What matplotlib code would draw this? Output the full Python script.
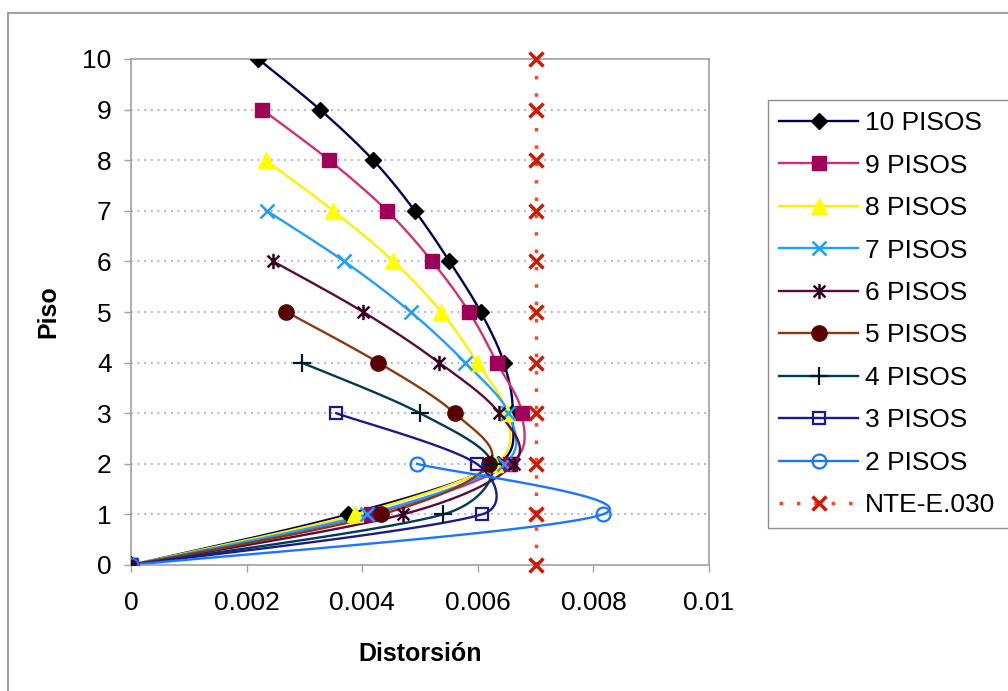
import numpy as np
import matplotlib
matplotlib.use('Agg')
import matplotlib.pyplot as plt
from matplotlib.path import Path
from matplotlib.lines import Line2D

plt.rcParams['font.family'] = ['Liberation Sans', 'DejaVu Sans']

# distorsion de entrepiso por piso, del piso 0 al piso superior
pisos_10 = [0, 0.00375, 0.00635, 0.0066, 0.00645, 0.00605, 0.00551, 0.00491, 0.00419, 0.00327, 0.00220]
pisos_9 = [0, 0.00415, 0.00655, 0.00676, 0.00633, 0.00585, 0.00521, 0.00443, 0.00343, 0.00227]
pisos_8 = [0, 0.00388, 0.0063, 0.0065, 0.00599, 0.00537, 0.00454, 0.00350, 0.00233]
pisos_7 = [0, 0.00408, 0.00645, 0.00653, 0.00578, 0.00484, 0.00369, 0.00235]
pisos_6 = [0, 0.00470, 0.00662, 0.00637, 0.00533, 0.00402, 0.00246]
pisos_5 = [0, 0.00433, 0.0062, 0.00560, 0.00428, 0.00269]
pisos_4 = [0, 0.00540, 0.00625, 0.00500, 0.00295]
pisos_3 = [0, 0.00607, 0.00598, 0.00355]
pisos_2 = [0, 0.00816, 0.00495]
limite_nte = 0.007

etiquetas = ['10 PISOS', '9 PISOS', '8 PISOS', '7 PISOS', '6 PISOS',
             '5 PISOS', '4 PISOS', '3 PISOS', '2 PISOS']
series = [pisos_10, pisos_9, pisos_8, pisos_7, pisos_6, pisos_5, pisos_4, pisos_3, pisos_2]

x_ticks = [0, 0.002, 0.004, 0.006, 0.008, 0.01]
x_ticklabels = ['0', '0.002', '0.004', '0.006', '0.008', '0.01']

# asterisco tipo Excel: una x con barra vertical
estrella = Path([(-1, -1), (1, 1), (-1, 1), (1, -1), (0, -1.3), (0, 1.3)],
                [Path.MOVETO, Path.LINETO] * 3)

estilos = [
    dict(color='#000050', marker='D', ms=8, mfc='#000000', mec='#000000'),
    dict(color='#D0307A', marker='s', ms=10, mfc='#A0005A', mec='#A0005A'),
    dict(color='#FFF000', marker='^', ms=11, mfc='#FFFF00', mec='#FFFF00'),
    dict(color='#1E9FFF', marker='x', ms=10, mfc='#1E9FFF', mec='#1E9FFF', mew=1.8),
    dict(color='#5A0A40', marker=estrella, ms=11, mfc='none', mec='#300020', mew=1.8),
    dict(color='#8A3A10', marker='o', ms=11, mfc='#5A0000', mec='#5A0000'),
    dict(color='#003A55', marker='+', ms=13, mfc='#001A2A', mec='#001A2A', mew=1.6),
    dict(color='#1A1A8C', marker='s', ms=9, mfc='none', mec='#1A1A8C', mew=1.6),
    dict(color='#1A75FF', marker='o', ms=10, mfc='none', mec='#1A75FF', mew=1.6),
]

W_PX, H_PX = 579, 506


def suavizar(xs, ys, n=40):
    # linea suavizada al estilo Excel: bezier con puntos de control a 1/6,
    # limitados a la mitad del tramo; calculado en escala de pixeles
    P = np.column_stack([np.asarray(xs) / 0.01 * W_PX, np.asarray(ys) / 10 * H_PX])
    Q = np.vstack([P[0], P, P[-1]])
    t = np.linspace(0, 1, n)[:, None]
    tramos = []
    for i in range(len(P) - 1):
        p0, p1, p2, p3 = Q[i], Q[i + 1], Q[i + 2], Q[i + 3]
        d12 = np.hypot(*(p2 - p1))
        d02 = np.hypot(*(p2 - p0))
        d13 = np.hypot(*(p3 - p1))
        f1 = min(1 / 6, 0.5 * d12 / d02) if d02 > 0 else 0
        f2 = min(1 / 6, 0.5 * d12 / d13) if d13 > 0 else 0
        c1 = p1 + (p2 - p0) * f1
        c2 = p2 - (p3 - p1) * f2
        seg = (1 - t) ** 3 * p1 + 3 * (1 - t) ** 2 * t * c1 + 3 * (1 - t) * t ** 2 * c2 + t ** 3 * p2
        tramos.append(seg if i == 0 else seg[1:])
    out = np.vstack(tramos)
    return out[:, 0] * 0.01 / W_PX, out[:, 1] * 10 / H_PX


fig = plt.figure(figsize=(10.08, 6.91), dpi=100)
ax = fig.add_axes([131 / 1008, 1 - 565 / 691, (709 - 131) / 1008, (565 - 59) / 691])

for yv in range(1, 10):
    ax.axhline(yv, color='#9A9AD0', ls=(0, (1, 3)), lw=1.2, zorder=0)

handles = []
for vals, lab, st in zip(series, etiquetas, estilos):
    pisos = np.arange(len(vals))
    sx, sy = suavizar(vals, pisos)
    ax.plot(sx, sy, color=st['color'], lw=1.7, zorder=2)
    ax.plot(vals, pisos, ls='none', marker=st['marker'], ms=st['ms'],
            mfc=st['mfc'], mec=st['mec'], mew=st.get('mew', 1.0), zorder=3)
    handles.append(Line2D([], [], color=st['color'], lw=1.7, marker=st['marker'], ms=st['ms'],
                          mfc=st['mfc'], mec=st['mec'], mew=st.get('mew', 1.0)))

pisos_nte = np.arange(11)
ax.plot([limite_nte] * len(pisos_nte), pisos_nte, color='#FF4422', ls=(0, (1, 4)), lw=2.5,
        marker='x', ms=10, mec='#D01A00', mew=2.5, zorder=4, clip_on=False)
handles.append(Line2D([], [], color='#FF4422', ls=(0, (1, 4)), lw=2.5,
                      marker='x', ms=10, mec='#D01A00', mew=2.5))

ax.set_xlim(0, 0.01)
ax.set_ylim(0, 10)
ax.set_xticks(x_ticks)
ax.set_xticklabels(x_ticklabels)
ax.set_yticks(range(0, 11))
for s in ax.spines.values():
    s.set_color('#A0A0A0')
    s.set_linewidth(1.2)
ax.tick_params(axis='both', direction='out', length=5, width=1, color='#A0A0A0',
               labelsize=19, labelcolor='black')
ax.tick_params(axis='y', pad=9)
ax.tick_params(axis='x', pad=14)

ax.set_xlabel('Distorsión', fontsize=18, fontweight='bold')
ax.set_ylabel('Piso', fontsize=18, fontweight='bold')
ax.xaxis.set_label_coords(0.5, -0.152)
ax.yaxis.set_label_coords(-0.122, 0.5)

leg = ax.legend(handles, etiquetas + ['NTE-E.030'], loc='upper left', mode='expand',
                bbox_to_anchor=(768 / 1008, 1 - 522 / 691, (1040 - 768) / 1008, (522 - 100) / 691),
                bbox_transform=fig.transFigure, fontsize=19, handlelength=3.0,
                handletextpad=0.25, labelspacing=0.7, borderpad=0.42, borderaxespad=0,
                frameon=True, fancybox=False, numpoints=1)
leg.get_frame().set_edgecolor('#707070')
leg.get_frame().set_linewidth(1.0)

# marco del area del grafico
fig.add_artist(Line2D([8 / 1008, 1], [1 - 13 / 691] * 2, transform=fig.transFigure,
                      color='#A0A0A0', lw=1.5))
fig.add_artist(Line2D([8 / 1008] * 2, [0, 1 - 13 / 691], transform=fig.transFigure,
                      color='#A0A0A0', lw=1.5))

fig.savefig('out.png', dpi=100)
